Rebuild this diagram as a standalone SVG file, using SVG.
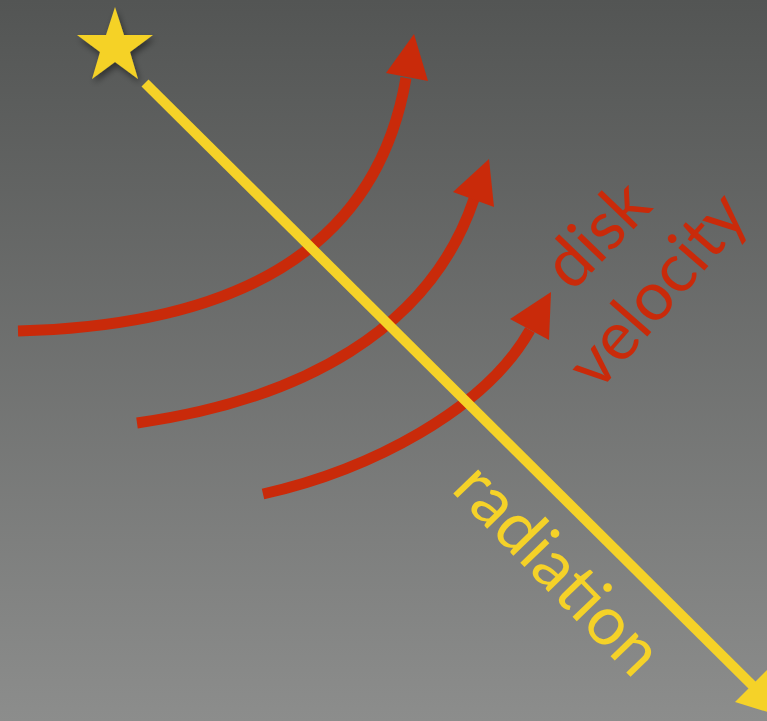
<svg xmlns="http://www.w3.org/2000/svg" width="767" height="721" viewBox="0 0 767 721">
<defs>
<linearGradient id="bg" x1="0" y1="0" x2="0" y2="1">
<stop offset="0" stop-color="#535554"/>
<stop offset="1" stop-color="#8c8d8c"/>
</linearGradient>
<filter id="sh" x="-30%" y="-30%" width="160%" height="160%">
<feDropShadow dx="2" dy="4" stdDeviation="3" flood-color="#000" flood-opacity="0.45"/>
</filter>
<style>
.arc{fill:none;stroke:#c92a0a;stroke-width:11;}
.head{fill:#c92a0a;}
.ray{fill:none;stroke:#f5d228;stroke-width:10;}
.rayhead{fill:#f5d228;}
.lbl{font-family:Lato,"Open Sans","DejaVu Sans",sans-serif;font-size:68px;}
.red{fill:#c92a0a;}
.yel{fill:#f5d228;}
</style>
</defs>
<rect width="767" height="721" fill="url(#bg)"/>
<g id="connectors">
<path class="arc" d="M18,331 C220,326 375,260 406,78"/>
<polygon class="head" points="414,34 386,73 428,81"/>
<path class="arc" d="M137,423 C300,400 430,330 474,199"/>
<polygon class="head" points="489,159 453,192 494,207"/>
<path class="arc" d="M263,494 C370,470 485,410 530,330"/>
<polygon class="head" points="551,292 510,319 549,340"/>
<path class="ray" d="M145,83 L755,688"/>
<polygon class="rayhead" points="787,718 735,702 767,670"/>
</g>
<g id="star" filter="url(#sh)">
<polygon class="rayhead" points="115,7 124,35 153,35 130,52 138,79 115,62 92,79 100,52 77,35 106,35"/>
</g>
<g id="label-disk"><text class="lbl red" transform="translate(572,293) rotate(-46)">disk</text></g>
<g id="label-velocity"><text class="lbl red" transform="translate(598,393) rotate(-49)">velocity</text></g>
<g id="label-radiation"><text class="lbl yel" transform="translate(450,490) rotate(46)">radiation</text></g>
</svg>
